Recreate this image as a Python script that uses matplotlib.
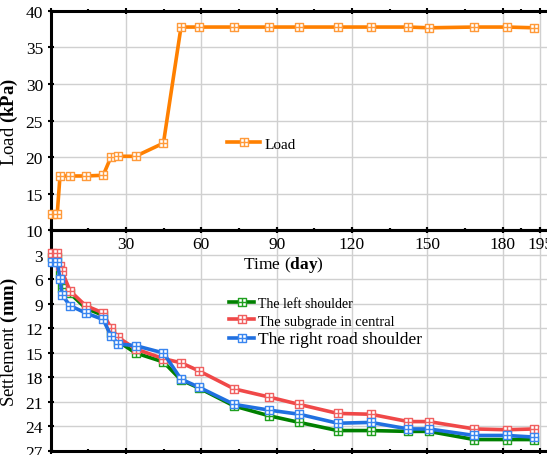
import numpy as np
import matplotlib
matplotlib.use("Agg")
import matplotlib.pyplot as plt
from matplotlib.path import Path

plt.rcParams['font.family'] = ['Liberation Serif', 'DejaVu Serif']
plt.rcParams['mathtext.fontset'] = 'custom'
plt.rcParams['mathtext.rm'] = 'Liberation Serif'
plt.rcParams['mathtext.bf'] = 'Liberation Serif:bold'

# load history (day, kPa)
load_day = [0.4, 2.6, 3.7, 7.7, 13.9, 20.9, 24, 26.9, 33.8, 44.9, 51.9, 59.1,
            73.1, 87.1, 99, 114.3, 127.5, 142.4, 150.6, 168.7, 181.7, 192.6]
load_kpa = [12.2, 12.2, 17.4, 17.4, 17.4, 17.5, 20.0, 20.1, 20.1, 21.9, 37.8, 37.8,
            37.8, 37.8, 37.8, 37.8, 37.8, 37.8, 37.7, 37.8, 37.8, 37.7]

# settlement (mm)
sett_day = [0.4, 2.6, 3.7, 4.5, 7.7, 13.9, 20.9, 24, 26.9, 33.8, 44.9, 51.9, 59.1,
            73.1, 87.1, 99, 114.3, 127.5, 142.4, 150.6, 168.7, 181.7, 192.6]
left_sh = [3.3, 3.3, 5.5, 7.1, 7.7, 9.5, 10.4, 12.5, 13.6, 15.0, 16.1, 18.3, 19.3,
           21.5, 22.7, 23.5, 24.5, 24.5, 24.6, 24.6, 25.6, 25.6, 25.6]
central = [2.8, 2.8, 4.4, 5.0, 7.4, 9.2, 10.1, 12.0, 13.1, 14.5, 15.7, 16.2, 17.2,
           19.4, 20.4, 21.3, 22.4, 22.5, 23.4, 23.4, 24.3, 24.4, 24.3]
right_sh = [3.8, 3.8, 5.9, 7.9, 9.2, 10.1, 10.9, 12.9, 13.9, 14.1, 15.0, 18.2, 19.2,
            21.3, 22.0, 22.5, 23.6, 23.5, 24.3, 24.3, 25.1, 25.1, 25.3]

xmajor = [0, 30, 60, 90, 120, 150, 180, 195]
xminor = [15, 45, 75, 105, 135, 165, 187.5]

# square with a cross inside
box = Path([(-1, -1), (1, -1), (1, 1), (-1, 1), (-1, -1), (0, -1), (0, 1), (-1, 0), (1, 0)],
           [Path.MOVETO, Path.LINETO, Path.LINETO, Path.LINETO, Path.CLOSEPOLY,
            Path.MOVETO, Path.LINETO, Path.MOVETO, Path.LINETO])

fig = plt.figure(figsize=(5.47, 4.56), dpi=100)
ax1 = fig.add_axes([0.0927, 0.4934, 0.918, 0.4803])
ax2 = fig.add_axes([0.0927, 0.0088, 0.918, 0.4836])

for ax in (ax1, ax2):
    ax.set_xlim(0, 200)
    ax.set_xticks(xmajor)
    ax.set_xticks(xminor, minor=True)
    ax.grid(True, color='#d0d0d0', lw=1.0)
    ax.set_axisbelow(True)
    for s in ax.spines.values():
        s.set_linewidth(2.2)
    ax.tick_params(which='both', direction='inout', top=True, bottom=True,
                   labelsize=12.5, width=1.5)
    ax.tick_params(which='major', length=4)
    ax.tick_params(which='minor', length=2.5)

# upper panel: load
ax1.plot(load_day, load_kpa, color='#ff8000', lw=2.6, marker=box, ms=6,
         mfc='white', mec='#ff9a3a', mew=1.0, label='Load', clip_on=False, zorder=5)
ax1.set_ylim(10, 40)
ax1.set_yticks(np.arange(10, 41, 5))
ax1.set_xticklabels(['', '30', '60', '90', '120', '150', '180', '195'])
ax1.tick_params(axis='x', pad=2)
ax1.set_ylabel(r'Load $\mathbf{(kPa)}$', fontsize=13.5, labelpad=4)
ax1.set_xlabel(r'Time ($\mathbf{day}$)', fontsize=12.5)
ax1.xaxis.set_label_coords(0.463, -0.11)
ax1.legend(loc='center left', bbox_to_anchor=(0.352, 0.393), frameon=False,
           fontsize=11, handlelength=2.1, handletextpad=0.35, borderpad=0,
           borderaxespad=0)

# lower panel: settlement
ax2.plot(sett_day, left_sh, color='#008000', lw=2.6, marker=box, ms=6,
         mfc='white', mec='#20a020', mew=1.0, label='The left shoulder',
         clip_on=False, zorder=5)
ax2.plot(sett_day, central, color='#f04848', lw=2.6, marker=box, ms=6,
         mfc='white', mec='#f06060', mew=1.0, label='The subgrade in central',
         clip_on=False, zorder=5)
ax2.plot(sett_day, right_sh, color='#2070e0', lw=2.6, marker=box, ms=6,
         mfc='white', mec='#3a86f0', mew=1.0, label='The right road shoulder',
         clip_on=False, zorder=5)
ax2.set_ylim(27, 0)
ax2.set_yticks(np.arange(3, 28, 3))
ax2.set_xticklabels([])
ax2.set_ylabel(r'Settlement $\mathbf{(mm)}$', fontsize=13.5, labelpad=4)
leg = ax2.legend(loc='center left', bbox_to_anchor=(0.356, 0.585), frameon=False,
                 fontsize=11, handlelength=1.6, handletextpad=0.3, borderpad=0,
                 borderaxespad=0, labelspacing=0.25)
for t, fs in zip(leg.get_texts(), [10, 10.5, 12.5]):
    t.set_fontsize(fs)

ax1.set_zorder(3)
ax1.patch.set_alpha(0)

fig.savefig('out.png', dpi=100)
